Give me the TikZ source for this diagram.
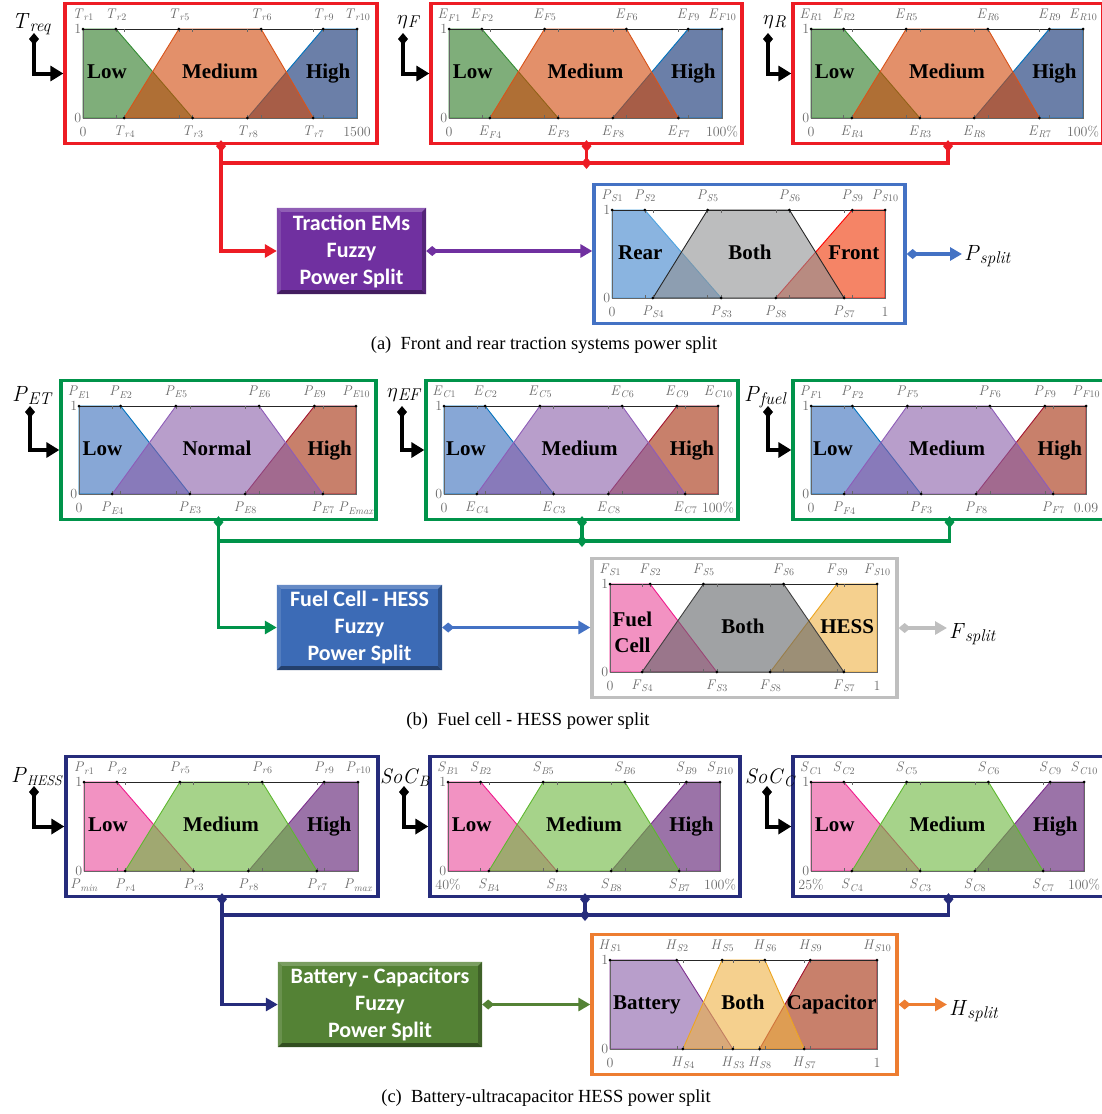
\documentclass[tikz,border=0pt]{standalone}
\usepackage{fontspec}
\newfontfamily\tnr{Liberation Serif}
\newfontfamily\cbr{Carlito}
\usetikzlibrary{arrows.meta,calc}

\definecolor{redF}{HTML}{ED1C24}
\definecolor{greenF}{HTML}{00934A}
\definecolor{navyF}{HTML}{262C7B}
\definecolor{blueF}{HTML}{4472C4}
\definecolor{greyF}{HTML}{BFBFBF}
\definecolor{orangeF}{HTML}{ED7D31}
\definecolor{purpleB}{HTML}{7030A0}
\definecolor{blueB}{HTML}{3C6BB6}
\definecolor{greenB}{HTML}{548235}
\definecolor{fGreen}{rgb}{0.163,0.47,0.13}
\definecolor{lGreen}{rgb}{0.2,0.55,0.2}
\definecolor{fOrange}{rgb}{0.817,0.275,0.027}
\definecolor{lOrange}{HTML}{D95319}
\definecolor{fNavy}{rgb}{0.033,0.163,0.431}
\definecolor{lBlue}{HTML}{0072BD}
\definecolor{fRear}{rgb}{0.235,0.51,0.797}
\definecolor{lRear}{HTML}{4DA3E0}
\definecolor{fGrey}{rgb}{0.562,0.568,0.575}
\definecolor{lBlack}{HTML}{262626}
\definecolor{fFront}{rgb}{0.935,0.197,0}
\definecolor{lRed}{HTML}{FF0000}
\definecolor{fBlue}{rgb}{0.216,0.425,0.732}
\definecolor{fPurple}{rgb}{0.536,0.366,0.66}
\definecolor{lPurple}{HTML}{8E5CB8}
\definecolor{fBrown}{rgb}{0.64,0.17,0.03}
\definecolor{lDarkRed}{HTML}{A2142F}
\definecolor{fPink}{rgb}{0.915,0.29,0.6}
\definecolor{lPink}{HTML}{F0198C}
\definecolor{fDGrey}{rgb}{0.379,0.392,0.405}
\definecolor{lDGrey}{HTML}{404040}
\definecolor{fYellow}{rgb}{0.935,0.693,0.262}
\definecolor{lYellow}{HTML}{EDA520}
\definecolor{fLime}{rgb}{0.418,0.712,0.235}
\definecolor{lLime}{HTML}{5DB82E}
\definecolor{fViolet}{rgb}{0.347,0.085,0.431}
\definecolor{lViolet}{HTML}{7E2F8E}

\tikzset{
  mfframe/.style={draw=#1, line width=3.3pt, inner sep=0pt},
  mfshape/.style={fill opacity=0.6, line width=0.9pt},
  axisline/.style={draw=black!60, line width=0.5pt},
  topline/.style={draw=black!85, line width=0.6pt},
  ptlab/.style={text=black!58, font=\fontsize{14}{15}\selectfont, inner sep=0pt},
  axlab/.style={text=black!58, font=\fontsize{14}{15}\selectfont, inner sep=1.5pt, anchor=east},
  mflab/.style={font=\tnr\bfseries\fontsize{21}{26}\selectfont, inner sep=0pt, anchor=base},
  nAstyle/.style={},
  varlab/.style={font=\fontsize{22}{26}\selectfont, inner sep=0pt, anchor=base west},
  caplab/.style={font=\tnr\fontsize{18.5}{22}\selectfont, inner sep=0pt, anchor=base},
  fuzzbox/.style={fill=#1, text=white,
     font=\cbr\bfseries\fontsize{22}{27}\selectfont, align=center, inner sep=0pt},
  inarr/.style={line width=4pt, draw=black, {Diamond[length=12pt,width=10pt]}-{Triangle[length=13pt,width=15pt]}},
  busline/.style={line width=3.3pt, draw=#1},
  dd/.style={{Diamond[length=12pt,width=10pt]}-{Diamond[length=12pt,width=10pt]}},
  da/.style={{Diamond[length=12pt,width=10pt]}-{Triangle[length=12pt,width=13pt]}},
  ta/.style={-{Triangle[length=12pt,width=13pt]}},
}

\newcommand\ML[3]{\textit{#1}\raisebox{-2.6pt}{\fontsize{10}{10}\selectfont\textit{#2}#3}}
\def\vsz{17}
\newcommand\VL[3]{\textit{#1}\raisebox{-3pt}{\fontsize{\vsz}{18}\selectfont\textit{#2}#3}}
\newcommand\bevel[2]{%
  \fill[#2!78!white] (#1.north west) -- (#1.north east) -- ($(#1.north east)+(-4,4)$) -- ($(#1.north west)+(4,4)$) -- cycle;
  \fill[#2!88!white] (#1.north west) -- (#1.south west) -- ($(#1.south west)+(4,-4)$) -- ($(#1.north west)+(4,4)$) -- cycle;
  \fill[#2!60!black] (#1.south west) -- (#1.south east) -- ($(#1.south east)+(-4,-4)$) -- ($(#1.south west)+(4,-4)$) -- cycle;
  \fill[#2!75!black] (#1.north east) -- (#1.south east) -- ($(#1.south east)+(-4,-4)$) -- ($(#1.north east)+(-4,4)$) -- cycle;}

\newcommand\Brk[8]{\def\pB{#1}\def\pC{#2}\def\pD{#3}\def\pE{#4}\def\pF{#5}\def\pG{#6}\def\pH{#7}\def\pI{#8}}
\newcommand\Col[6]{\def\fA{#1}\def\lA{#2}\def\fB{#3}\def\lB{#4}\def\fC{#5}\def\lC{#6}}
\newcommand\TL[6]{\def\tA{#1}\def\tB{#2}\def\tE{#3}\def\tF{#4}\def\tI{#5}\def\tJ{#6}}
\newcommand\BL[6]{\def\bA{#1}\def\bD{#2}\def\bC{#3}\def\bH{#4}\def\bG{#5}\def\bJ{#6}}
\newcommand\NM[6]{\def\nA{#1}\def\xA{#2}\def\nB{#3}\def\xB{#4}\def\nC{#5}\def\xC{#6}}
\newcommand\TLs[2]{\TL{\ML{#1}{#2}{1}}{\ML{#1}{#2}{2}}{\ML{#1}{#2}{5}}{\ML{#1}{#2}{6}}{\ML{#1}{#2}{9}}{\ML{#1}{#2}{10}}}
\newcommand\BLs[4]{\BL{#3}{\ML{#1}{#2}{4}}{\ML{#1}{#2}{3}}{\ML{#1}{#2}{8}}{\ML{#1}{#2}{7}}{#4}}
\def\yA{0.44}
\newcommand\MF[6]{%
  \pgfmathsetmacro\bw{#4+38}\pgfmathsetmacro\bh{#5+51}%
  \node[mfframe=#6, minimum width=\bw pt, minimum height=\bh pt] (#1) at ({#2+#4/2+1},{#3-#5/2}) {};
  \begin{scope}[shift={(#2,#3)}, x=#4pt, y=#5pt]
    \filldraw[fill=\fA, draw=\lA, mfshape] (0,0) -- (0,1) -- (\pB,1) -- (\pC,0) -- cycle;
    \filldraw[fill=\fC, draw=\lC, mfshape] (\pH,0) -- (\pI,1) -- (1,1) -- (1,0) -- cycle;
    \filldraw[fill=\fB, draw=\lB, mfshape] (\pD,0) -- (\pE,1) -- (\pF,1) -- (\pG,0) -- cycle;
    \draw[axisline] (0,0) rectangle (1,1);
    \draw[topline] (0,1) -- (1,1);
    \foreach \pp in {\pB,\pC,\pD,\pE,\pF,\pG,\pH,\pI} {\draw[axisline] (\pp,0) -- ++(0,0.035) (\pp,1) -- ++(0,-0.035);}
    \foreach \pp in {0,\pB,\pE,\pF,\pI,1} {\fill (\pp,1) circle (1.5pt);}
    \foreach \pp in {\pD,\pC,\pH,\pG} {\fill (\pp,0) circle (1.5pt);}
    \node[axlab] (#1-one) at (0,1) {1};
    \node[axlab] (#1-zero) at (0,0) {0};
    \node[ptlab, yshift=14pt] (#1-t1) at (0,1) {\tA};
    \node[ptlab, yshift=14pt] (#1-t2) at (\pB,1) {\tB};
    \node[ptlab, yshift=14pt] (#1-t5) at (\pE,1) {\tE};
    \node[ptlab, yshift=14pt] (#1-t6) at (\pF,1) {\tF};
    \node[ptlab, yshift=14pt] (#1-t9) at (\pI,1) {\tI};
    \node[ptlab, yshift=14pt] (#1-t10) at (1,1) {\tJ};
    \node[ptlab, yshift=-14pt] (#1-b0) at (0,0) {\bA};
    \node[ptlab, yshift=-14pt] (#1-b4) at (\pD,0) {\bD};
    \node[ptlab, yshift=-14pt] (#1-b3) at (\pC,0) {\bC};
    \node[ptlab, yshift=-14pt] (#1-b8) at (\pH,0) {\bH};
    \node[ptlab, yshift=-14pt] (#1-b7) at (\pG,0) {\bG};
    \node[ptlab, yshift=-14pt] (#1-b10) at (1,0) {\bJ};
    \node[mflab, nAstyle] (#1-n1) at (\xA,\yA) {\nA};
    \node[mflab] (#1-n2) at (\xB,0.44) {\nB};
    \node[mflab] (#1-n3) at (\xC,0.44) {\nC};
  \end{scope}}

\begin{document}
\begin{tikzpicture}[x=1pt,y=-1pt]
\useasboundingbox (0,0) rectangle (1102,1114);

% ================= (a) =================
\Brk{0.12}{0.40}{0.15}{0.35}{0.65}{0.84}{0.60}{0.876}
\Col{fGreen}{lGreen}{fOrange}{lOrange}{fNavy}{lBlue}
\NM{Low}{0.087}{Medium}{0.50}{High}{0.895}
\TLs{T}{r}\BLs{T}{r}{0}{1500}
\MF{pa1}{83}{118}{274}{89}{redF}
\TLs{E}{F}\BLs{E}{F}{0}{100\%}
\MF{pa2}{449}{118}{273}{89}{redF}
\TLs{E}{R}\BLs{E}{R}{0}{100\%}
\MF{pa3}{811}{118}{272}{89}{redF}

\Brk{0.12}{0.40}{0.15}{0.35}{0.65}{0.85}{0.60}{0.88}
\Col{fRear}{lRear}{fGrey}{lBlack}{fFront}{lRed}
\NM{Rear}{0.104}{Both}{0.505}{Front}{0.886}
\TLs{P}{S}\BLs{P}{S}{0}{1}
\MF{pao}{612}{298}{273}{88}{blueF}

\node[varlab] (vTreq) at (12,28) {\VL{T}{req}{}};
\node[varlab] (vetaF) at (397,24) {\VL{$\eta$}{F}{}};
\node[varlab] (vetaR) at (763,24) {\VL{$\eta$}{R}{}};
\coordinate (ia1) at (34,33);
\coordinate (ia2) at (403,33);
\coordinate (ia3) at (768,33);
\draw[inarr] (ia1) |- (pa1.west);
\draw[inarr] (ia2) |- (pa2.west);
\draw[inarr] (ia3) |- (pa3.west);

\node[fuzzbox=purpleB, minimum width=149pt, minimum height=86pt] (trac) at (351.5,251) {};
\bevel{trac}{purpleB}
\node[fuzzbox=purpleB, fill=none] (tractxt) at (trac.center) {Traction EMs\\Fuzzy\\Power Split};
\coordinate (busA) at (222,163);
\draw[busline=redF, dd] ($(pa1.south)+(0,-5)$) -- (pa1.south |- busA) -- (pa3.south |- busA) -- ($(pa3.south)+(0,-5)$);
\draw[busline=redF, dd] ($(pa2.south)+(0,-5)$) -- ($(pa2.south |- busA)+(0,6)$);
\draw[busline=redF, ta] (pa1.south |- busA) |- (trac.west);
\draw[busline=purpleB, da] (trac.east) -- (trac.east -| pao.west);
\node[varlab] (psplit) at (964,260) {\VL{P}{split}{}};
\draw[busline=blueF, da] (pao.east) -- ($(pao.east -| psplit.west)+(-2,0)$);
\node[caplab] (capa) at (544,349) {(a)\enspace Front and rear traction systems power split};

% ================= (b) =================
\Brk{0.15}{0.40}{0.12}{0.35}{0.65}{0.88}{0.60}{0.85}
\Col{fBlue}{lBlue}{fPurple}{lPurple}{fBrown}{lDarkRed}
\NM{Low}{0.085}{Normal}{0.498}{High}{0.905}
\TLs{P}{E}\BLs{P}{E}{0}{\ML{P}{Emax}{}}
\MF{pb1}{79}{494}{277}{88}{greenF}
\NM{Low}{0.08}{Medium}{0.495}{High}{0.905}
\TLs{E}{C}\BLs{E}{C}{0}{100\%}
\MF{pb2}{444}{494}{274}{88}{greenF}
\TLs{P}{F}\BLs{P}{F}{0}{0.09}
\MF{pb3}{811}{494}{275}{88}{greenF}

\Brk{0.15}{0.40}{0.12}{0.35}{0.65}{0.876}{0.60}{0.85}
\Col{fPink}{lPink}{fDGrey}{lDGrey}{fYellow}{lYellow}
\NM{Fuel\\Cell}{0.084}{Both}{0.498}{HESS}{0.888}
\TLs{F}{S}\BLs{F}{S}{0}{1}
\def\yA{0.455}
\tikzset{nAstyle/.style={anchor=center, align=center}}
\MF{pbo}{610}{672}{267}{88}{greyF}
\def\yA{0.44}
\tikzset{nAstyle/.style={}}

\node[varlab] (vPET) at (12,401) {\VL{P}{ET}{}};
\node[varlab] (vetaEF) at (387,397) {\VL{$\eta$}{EF}{}};
\node[varlab] (vPfuel) at (744,401) {\VL{P}{fuel}{}};
\coordinate (ib1) at (30,406);
\coordinate (ib2) at (402,406);
\coordinate (ib3) at (768,406);
\draw[inarr] (ib1) |- (pb1.west);
\draw[inarr] (ib2) |- (pb2.west);
\draw[inarr] (ib3) |- (pb3.west);

\node[fuzzbox=blueB, minimum width=165pt, minimum height=85pt] (fuel) at (359.5,627.5) {};
\bevel{fuel}{blueB}
\node[fuzzbox=blueB, fill=none] (fueltxt) at (fuel.center) {Fuel Cell - HESS\\Fuzzy\\Power Split};
\coordinate (busB) at (218,541);
\draw[busline=greenF, dd] ($(pb1.south)+(0,-5)$) -- (pb1.south |- busB) -- (pb3.south |- busB) -- ($(pb3.south)+(0,-5)$);
\draw[busline=greenF, dd] ($(pb2.south)+(0,-5)$) -- ($(pb2.south |- busB)+(0,6)$);
\draw[busline=greenF, ta] (pb1.south |- busB) |- (fuel.west);
\draw[busline=blueF, da] (fuel.east) -- (fuel.east -| pbo.west);
\node[varlab] (fsplit) at (949,638) {\VL{F}{split}{}};
\draw[busline=greyF, da] (pbo.east) -- ($(pbo.east -| fsplit.west)+(-2,0)$);
\node[caplab] (capb) at (528,725) {(b)\enspace Fuel cell - HESS power split};

% ================= (c) =================
\Brk{0.12}{0.40}{0.15}{0.35}{0.65}{0.85}{0.60}{0.876}
\Col{fPink}{lPink}{fLime}{lLime}{fViolet}{lViolet}
\NM{Low}{0.087}{Medium}{0.50}{High}{0.895}
\TLs{P}{r}\BLs{P}{r}{\ML{P}{min}{}}{\ML{P}{max}{}}
\MF{pc1}{84}{871}{274}{89}{navyF}
\TLs{S}{B}\BLs{S}{B}{40\%}{100\%}
\MF{pc2}{448}{871}{272}{89}{navyF}
\TLs{S}{C}\BLs{S}{C}{25\%}{100\%}
\MF{pc3}{811}{871}{273}{89}{navyF}

\Brk{0.25}{0.46}{0.273}{0.42}{0.58}{0.727}{0.56}{0.75}
\Col{fPurple}{lViolet}{fYellow}{lYellow}{fBrown}{lDarkRed}
\NM{Battery}{0.138}{Both}{0.498}{Capacitor}{0.83}
\TLs{H}{S}\BLs{H}{S}{0}{1}
\MF{pco}{610}{1049}{267}{89}{orangeF}

\def\vsz{14}
\node[varlab] (vPHESS) at (11,782) {\VL{P}{HESS}{}};
\def\vsz{15}
\node[varlab, font=\fontsize{21}{26}\selectfont] (vSoCB) at (380,783) {\VL{SoC}{B}{}};
\node[varlab, font=\fontsize{21}{26}\selectfont] (vSoCC) at (745,783) {\VL{SoC}{C}{}};
\def\vsz{17}
\coordinate (ic1) at (34,786);
\coordinate (ic2) at (404,786);
\coordinate (ic3) at (767,786);
\draw[inarr] (ic1) |- (pc1.west);
\draw[inarr] (ic2) |- (pc2.west);
\draw[inarr] (ic3) |- (pc3.west);

\node[fuzzbox=greenB, minimum width=204pt, minimum height=85pt] (batt) at (380,1004.5) {};
\bevel{batt}{greenB}
\node[fuzzbox=greenB, fill=none] (batttxt) at (batt.center) {Battery - Capacitors\\Fuzzy\\Power Split};
\coordinate (busC) at (222,915);
\draw[busline=navyF, dd] ($(pc1.south)+(0,-5)$) -- (pc1.south |- busC) -- (pc3.south |- busC) -- ($(pc3.south)+(0,-5)$);
\draw[busline=navyF, dd] ($(pc2.south)+(0,-5)$) -- ($(pc2.south |- busC)+(0,6)$);
\draw[busline=navyF, ta] (pc1.south |- busC) |- (batt.west);
\draw[busline=greenB, da] (batt.east) -- (batt.east -| pco.west);
\node[varlab] (hsplit) at (949,1015) {\VL{H}{split}{}};
\draw[busline=orangeF, da] (pco.east) -- ($(pco.east -| hsplit.west)+(-2,0)$);
\node[caplab] (capc) at (546,1102) {(c)\enspace Battery-ultracapacitor HESS power split};
\end{tikzpicture}
\end{document}
